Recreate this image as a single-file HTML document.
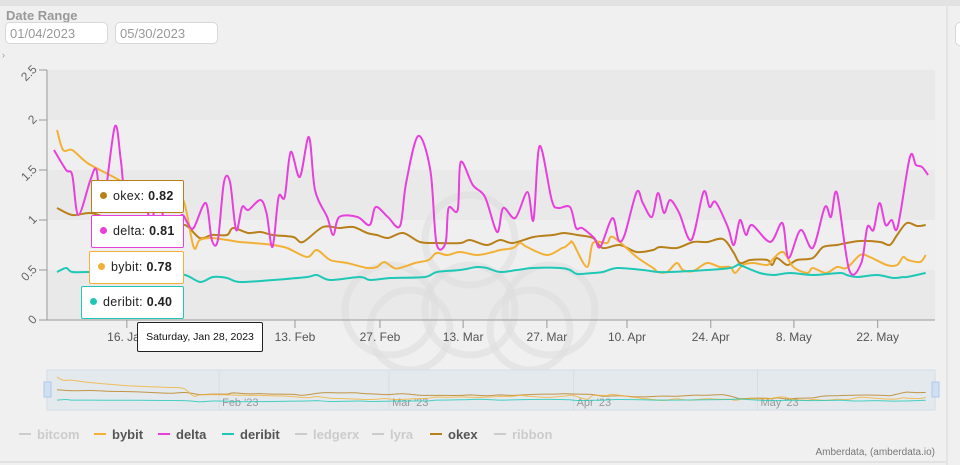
<!DOCTYPE html>
<html><head><meta charset="utf-8"><style>
body{margin:0;width:960px;height:465px;overflow:hidden;background:#f0f0f0;font-family:"Liberation Sans",sans-serif;position:relative}
.inp{position:absolute;top:22px;height:22px;width:103px;background:#fff;border:1px solid #d8d8d8;border-radius:5px;color:#999;font-size:13px;line-height:22px;padding-left:4px;box-sizing:border-box}
.tt{position:absolute;background:#fff;border:1px solid;border-radius:2px;font-size:12.5px;color:#222;height:33px;line-height:31px;box-sizing:border-box;padding-left:8px;letter-spacing:.3px}
.tt b{font-weight:bold}
.dot{display:inline-block;width:7px;height:7px;border-radius:50%;margin-right:6px;vertical-align:1px}
.lg{position:absolute;top:427px;font-size:13px;font-weight:bold;color:#555}
.lg i{display:inline-block;width:12px;height:2px;vertical-align:4px;margin-right:6px}
.off{color:#ccc}
</style></head><body>
<div style="position:absolute;left:0;top:0;width:960px;height:6px;background:#e2e2e2"></div>
<div style="position:absolute;left:946px;top:0;width:2px;height:465px;background:#e4e4e4"></div>
<div style="position:absolute;left:6px;top:8px;font-size:13px;font-weight:bold;color:#999">Date Range</div>
<div class="inp" style="left:5px">01/04/2023</div>
<div class="inp" style="left:115px">05/30/2023</div>
<div style="position:absolute;left:955px;top:22px;width:10px;height:22px;background:#fff;border:1px solid #d8d8d8;border-radius:5px"></div>
<div style="position:absolute;left:2px;top:50px;font-size:9px;color:#999">›</div>

<svg id="chart" width="960" height="465" style="position:absolute;left:0;top:0"></svg>

<div class="tt" style="left:91px;top:180px;width:93px;border-color:#b8801a"><span class="dot" style="background:#b8801a"></span>okex: <b>0.82</b></div>
<div class="tt" style="left:91px;top:215px;width:93px;border-color:#e840dc"><span class="dot" style="background:#e840dc"></span>delta: <b>0.81</b></div>
<div class="tt" style="left:89px;top:251px;width:95px;border-color:#f2b136"><span class="dot" style="background:#f2b136"></span>bybit: <b>0.78</b></div>
<div class="tt" style="left:81px;top:286px;width:103px;border-color:#1fc8b6"><span class="dot" style="background:#1fc8b6"></span>deribit: <b>0.40</b></div>
<div style="position:absolute;left:137px;top:322px;width:126px;height:30px;background:#fff;border:1px solid #222;border-radius:2px;box-sizing:border-box;font-size:10.5px;line-height:28px;text-align:center;color:#111">Saturday, Jan 28, 2023</div>

<div class="lg off" style="left:19px"><i style="background:#ccc"></i>bitcom</div>
<div class="lg" style="left:94px"><i style="background:#f2b136"></i>bybit</div>
<div class="lg" style="left:158px"><i style="background:#e840dc"></i>delta</div>
<div class="lg" style="left:222px"><i style="background:#1fc8b6"></i>deribit</div>
<div class="lg off" style="left:295px"><i style="background:#ccc"></i>ledgerx</div>
<div class="lg off" style="left:372px"><i style="background:#ccc"></i>lyra</div>
<div class="lg" style="left:430px"><i style="background:#b8801a"></i>okex</div>
<div class="lg off" style="left:494px"><i style="background:#ccc"></i>ribbon</div>
<div style="position:absolute;right:25px;top:447px;font-size:10px;color:#777">Amberdata, (amberdata.io)</div>

<script>
const deltaDays=[0,2,3,4,6,7,8,10,11,12,14,16,17,19,21,22,23,25,26,27,28,29,30,31,32,34,35,36,37,38,39,40.5,42,43,45,46,47,50,52,53,55,57,58,60,62,63,64.5,65,66.5,67,69,71,73,74,76,78,79,80,82,83,85,86,87,89,90,92,93,94,96,97,98.5,99.5,100.5,101.5,103,105,107,108,109,111,112,113,114,115,118,120,121,123,125,127,128,129,131,133,134,135,136,137,138,139,141,142,143,144];
const deltaVals=[1.7,1.5,1.45,1.05,1.4,1.5,1.1,1.93,1.6,1.1,1.3,1.0,1.2,0.9,1.05,0.97,0.92,1.17,0.8,0.8,1.38,1.38,0.9,1.13,1.1,1.2,1.07,0.73,1.23,1.23,1.68,1.43,1.83,1.3,1.03,0.85,1.03,1.03,0.95,1.13,1.03,0.94,1.37,1.84,1.5,0.77,0.77,1.12,1.1,1.58,1.35,1.23,0.88,1.12,1.02,1.28,1.0,1.74,1.2,1.12,1.13,0.92,0.92,0.82,0.73,1.02,0.8,0.85,1.28,1.17,1.03,1.27,1.07,1.2,1.07,0.8,1.28,1.13,1.18,0.93,0.75,1.0,0.85,0.95,0.78,0.97,0.62,0.9,0.72,1.13,1.03,1.27,0.5,0.57,0.93,0.9,1.17,0.95,1.0,0.93,1.63,1.55,1.53,1.45];
const okexDays=[0.5,3,6,9,12.5,16,19,21.6,24,26,28.5,29.5,32,34,36,39.4,41,44.3,47,49.3,51.6,53.2,55,57.5,60.3,63.1,67,68.5,71.3,73.5,75.6,79,82.2,84,86.2,88.8,90.4,93.2,96,98.7,99.8,102.6,105.3,107.6,110.2,111.9,113,114.7,117.5,118.3,119.1,120.8,122.4,125,126.7,129,130.6,132.8,136.1,137.7,138.9,140.5,142.2,143.6];
const okexVals=[1.12,1.05,1.07,1.02,1.0,0.95,0.9,0.95,0.82,0.85,0.85,0.92,0.87,0.88,0.85,0.83,0.78,0.93,0.92,0.93,0.87,0.85,0.82,0.87,0.78,0.77,0.77,0.8,0.75,0.8,0.77,0.83,0.85,0.87,0.85,0.82,0.72,0.75,0.68,0.7,0.73,0.72,0.78,0.78,0.81,0.68,0.57,0.6,0.6,0.55,0.62,0.55,0.6,0.62,0.73,0.75,0.77,0.79,0.78,0.75,0.85,0.97,0.94,0.95];
const bybitDays=[0.5,1.5,3,5.5,9.2,12.5,16,19,21.3,23,24,26,28.5,30.6,32.8,36.1,38.4,41.7,43.3,45.5,48.3,51.6,53.2,54.4,56,57,59.5,61.7,63,64.8,66.9,69.7,72.3,73.5,75.6,76.8,77.9,81.2,83.7,84.2,85,85.5,87.8,88.8,91.1,92.1,96,98.7,99.5,101,102.6,103.6,105.3,107.6,109.7,111.4,112.2,113.5,115.2,117.5,118.3,120.1,121.8,124.1,125,127.2,129,130.6,132.8,134.4,137.2,138.9,139.9,140.7,142.7,143.6];
const bybitVals=[1.9,1.7,1.7,1.57,1.45,1.35,1.3,1.25,1.2,0.73,0.8,0.82,0.8,0.78,0.77,0.75,0.72,0.63,0.7,0.6,0.57,0.52,0.53,0.58,0.52,0.52,0.57,0.6,0.67,0.65,0.68,0.65,0.68,0.7,0.72,0.77,0.73,0.65,0.72,0.73,0.77,0.77,0.53,0.77,0.77,0.83,0.63,0.52,0.48,0.48,0.57,0.5,0.49,0.57,0.53,0.53,0.47,0.55,0.57,0.55,0.6,0.68,0.53,0.47,0.52,0.47,0.53,0.52,0.65,0.63,0.55,0.55,0.63,0.6,0.58,0.65,0.62,0.47,0.52,0.5];
const deribitDays=[0.5,2,3,6,10,14,18,21.6,24.1,26.2,28.5,30.6,36.1,41.7,43.3,45.5,50.4,52.1,55.5,61.1,63.1,66.9,69.7,71.3,73.5,76.3,78.9,83.4,85,86.2,88.8,90.4,92.8,97,99.5,101.5,107.6,111.4,112.6,113,116.3,118.5,121.3,125,129.5,130.6,132.3,135.6,138.3,139.9,140.5,143.6];
const deribitVals=[0.48,0.52,0.48,0.48,0.47,0.47,0.46,0.45,0.38,0.43,0.42,0.38,0.4,0.43,0.45,0.4,0.43,0.4,0.42,0.43,0.48,0.5,0.53,0.52,0.48,0.5,0.52,0.52,0.5,0.46,0.47,0.48,0.52,0.5,0.48,0.48,0.5,0.52,0.55,0.55,0.47,0.45,0.47,0.45,0.47,0.45,0.43,0.45,0.42,0.43,0.43,0.47,0.47];
const yTicks=[0,0.5,1,1.5,2,2.5];
const yTickLabels=["0","0.5","1","1.5","2","2.5"];
const xTickDays=[12,39.7,53.7,67.4,81.2,94.4,108.2,121.9,135.7];
const xTickLabels=["16. Jan","13. Feb","27. Feb","13. Mar","27. Mar","10. Apr","24. Apr","8. May","22. May"];
const navTickDays=[27.2,55.2,85.6,115.9];
const navTickLabels=["Feb '23","Mar '23","Apr '23","May '23"];

const NS="http://www.w3.org/2000/svg";
const svg=document.getElementById('chart');
const X0=47,X1=935,Y0=320,YT=70;
const xs=d=>54+d*6.07;
const ys=v=>Y0-(v/2.5)*(Y0-YT);
const nys=v=>408-(v/2.2)*36;
function mk(t,a,parent){const e=document.createElementNS(NS,t);for(const k in a)e.setAttribute(k,a[k]);(parent||svg).appendChild(e);return e;}
function smooth(pts){let d='M'+pts[0][0].toFixed(1)+','+pts[0][1].toFixed(1);
 for(let i=0;i<pts.length-1;i++){const p0=pts[i-1]||pts[i],p1=pts[i],p2=pts[i+1],p3=pts[i+2]||p2;const t=0.16;
 d+=' C'+(p1[0]+(p2[0]-p0[0])*t).toFixed(1)+','+(p1[1]+(p2[1]-p0[1])*t).toFixed(1)+' '+(p2[0]-(p3[0]-p1[0])*t).toFixed(1)+','+(p2[1]-(p3[1]-p1[1])*t).toFixed(1)+' '+p2[0].toFixed(1)+','+p2[1].toFixed(1);}
 return d;}

for(let i=0;i<yTicks.length-1;i++){
 const b=mk('rect',{x:X0,y:ys(yTicks[i+1]),width:X1-X0,height:ys(yTicks[i])-ys(yTicks[i+1]),fill:i%2===0?'#e9e9e9':'#efefef'});
 
 
}
const wm=[[470,240,45],[390,310,45],[470,310,45],[550,310,45],[410,330,40],[530,330,40]];
wm.forEach(c=>{const e=mk('circle',{cx:c[0],cy:c[1],r:c[2],fill:'none',stroke:'#dedede','stroke-width':7,opacity:0.6});
 
 });
const ya=mk('line',{x1:X0,y1:YT,x2:X0,y2:Y0,stroke:'#999'});


yTicks.forEach((v,i)=>{mk('line',{x1:X0-8,y1:ys(v),x2:X0,y2:ys(v),stroke:'#999'});
 const t=mk('text',{x:36,y:ys(v)+4,'text-anchor':'end','font-size':12,fill:'#666',transform:`rotate(-45 ${32} ${ys(v)})`});
 t.textContent=yTickLabels[i];
 
 });
const xa=mk('line',{x1:X0,y1:Y0,x2:X1,y2:Y0,stroke:'#999'});


xTickDays.forEach((d,i)=>{mk('line',{x1:xs(d),y1:Y0,x2:xs(d),y2:Y0+8,stroke:'#999'});
 const t=mk('text',{x:xs(d),y:341,'text-anchor':'middle','font-size':12,fill:'#555'});
 t.textContent=xTickLabels[i];
 
 });

const series=[['okex',okexDays,okexVals,'#b8801a'],['bybit',bybitDays,bybitVals,'#f2b136'],['deribit',deribitDays,deribitVals,'#1fc8b6'],['delta',deltaDays,deltaVals,'#e840dc']];
series.forEach(s=>{const p=mk('path',{d:smooth(s[1].map((d,i)=>[xs(d),ys(s[2][i])])),fill:'none',stroke:s[3],'stroke-width':2});
 
 });

const nb=mk('rect',{x:X0,y:370,width:X1-X0,height:40,fill:'#e4e9ee',stroke:'#d4dde8'});


navTickDays.forEach((d,i)=>{mk('line',{x1:xs(d),y1:370,x2:xs(d),y2:410,stroke:'#d8dee6'});
 const t=mk('text',{x:xs(d)+3,y:406,'font-size':11,fill:'#999'});
 t.textContent=navTickLabels[i];
 
 });
series.filter(s=>s[0]!=='delta').forEach(s=>{const p=mk('path',{d:smooth(s[1].map((d,i)=>[xs(d),nys(s[2][i])])),fill:'none',stroke:s[3],'stroke-width':1,opacity:0.8});
 
 });
[[X0-3],[X1-3]].forEach(h=>{const r=mk('rect',{x:h[0],y:382,width:7,height:15,fill:'#cfe0f5',stroke:'#b0c8e8'});
 
 });
mk('line',{x1:0,y1:462,x2:946,y2:462,stroke:'#e2e2e2','stroke-width':2});
</script>
</body></html>
